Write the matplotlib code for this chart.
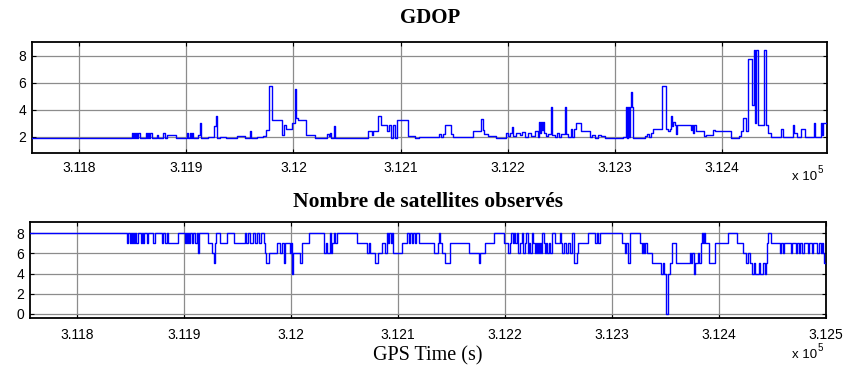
import matplotlib
matplotlib.use("Agg")
import matplotlib.pyplot as plt
from matplotlib.ticker import FuncFormatter

# GDOP : instants (s) et valeurs, en escalier
gdop_t = [311756, 311849, 311850, 311851, 311852, 311853, 311854, 311855, 311857,
          311862, 311863, 311864, 311865, 311866, 311868, 311873, 311874, 311878, 311880,
          311882, 311890, 311901, 311902, 311903, 311904, 311905, 311906, 311911, 311913,
          311914, 311920, 311926, 311928, 311929, 311931, 311937, 311947, 311955, 311959,
          311960, 311966, 311972, 311974, 311977, 311980, 311989, 311991, 311993, 311996,
          311999, 312001, 312002, 312004, 312012, 312020, 312031, 312033, 312034, 312035,
          312038, 312039, 312070, 312073, 312074, 312079, 312082, 312087, 312089, 312091,
          312093, 312095, 312097, 312107, 312113, 312117, 312136, 312138, 312140, 312141,
          312147, 312149, 312168, 312175, 312177, 312178, 312182, 312189, 312198, 312200,
          312202, 312204, 312205, 312208, 312211, 312213, 312216, 312219, 312222, 312225,
          312228, 312229, 312230, 312231, 312232, 312233, 312234, 312236, 312238, 312240,
          312241, 312244, 312246, 312248, 312250, 312253, 312254, 312256, 312259, 312260,
          312262, 312264, 312268, 312277, 312279, 312281, 312284, 312287, 312291, 312308,
          312310, 312311, 312312, 312313, 312314, 312315, 312316, 312317, 312328, 312330,
          312332, 312334, 312336, 312340, 312344, 312348, 312350, 312351, 312352, 312353,
          312354, 312356, 312357, 312358, 312371, 312372, 312373, 312374, 312376, 312383,
          312385, 312387, 312392, 312393, 312408, 312416, 312418, 312420, 312422, 312424,
          312428, 312430, 312431, 312432, 312434, 312439, 312441, 312443, 312446, 312455,
          312457, 312466, 312467, 312470, 312474, 312477, 312486, 312487, 312492, 312493,
          312494, 312498]
gdop_v = [1.93, 2.3, 1.93, 2.3, 1.93, 2.3, 1.93, 2.3, 1.93,
          2.3, 1.93, 2.3, 1.93, 2.3, 1.93, 2.15, 1.93, 2.3, 1.93,
          2.1, 1.93, 2.3, 1.93, 2.3, 1.93, 2.3, 1.93, 2.1, 3.0,
          1.93, 1.97, 2.8, 3.5, 1.93, 1.97, 1.93, 2.05, 1.93, 2.4,
          1.93, 1.97, 2.05, 2.5, 5.75, 3.25, 2.1, 2.9, 2.6, 2.55,
          3.0, 5.5, 3.4, 3.25, 2.1, 1.93, 2.2, 2.05, 2.25, 1.93,
          2.8, 1.93, 2.4, 2.1, 2.45, 3.5, 2.9, 2.4, 2.85, 1.9,
          2.85, 1.9, 3.25, 2.05, 1.93, 1.97, 2.2, 1.97, 2.2, 2.9,
          2.2, 1.97, 2.4, 3.3, 2.5, 2.2, 2.05, 1.93, 2.3, 2.05,
          2.3, 2.7, 2.05, 2.3, 2.1, 2.35, 1.97, 2.3, 2.05, 2.4,
          1.97, 3.1, 2.3, 3.1, 2.5, 3.1, 2.3, 2.05, 2.2, 4.2,
          2.1, 1.97, 2.3, 1.97, 2.2, 4.2, 2.2, 1.97, 2.6, 1.97,
          2.6, 3.0, 2.4, 1.97, 2.1, 1.93, 2.1, 2.05, 1.9, 1.97,
          4.2, 1.9, 4.2, 1.97, 4.2, 5.3, 4.2, 1.9, 2.05, 2.2,
          1.97, 2.3, 2.55, 2.6, 5.75, 2.6, 2.4, 2.6, 3.5, 2.8,
          3.1, 2.85, 2.2, 2.85, 2.5, 2.85, 2.3, 2.85, 2.4, 2.05,
          2.15, 2.1, 2.5, 2.4, 1.9, 2.05, 2.4, 3.4, 2.4, 7.75,
          4.35, 8.4, 3.0, 8.4, 2.9, 8.4, 2.9, 2.3, 1.97, 2.55,
          1.97, 2.9, 2.3, 1.97, 2.6, 1.97, 3.0, 1.97, 3.0, 2.1,
          3.0, 3.0]

# nombre de satellites observes
sat_t = [311756, 311847, 311848, 311849, 311850, 311851, 311852, 311853, 311854, 311855,
         311857, 311860, 311861, 311862, 311863, 311865, 311866, 311871, 311873, 311879,
         311880, 311882, 311884, 311885, 311894, 311901, 311902, 311903, 311904, 311905,
         311906, 311907, 311908, 311910, 311912, 311913, 311914, 311922, 311926, 311928,
         311929, 311930, 311934, 311940, 311947, 311957, 311958, 311960, 311962, 311964,
         311966, 311968, 311970, 311972, 311975, 311976, 311977, 311979, 311987, 311990,
         311992, 311993, 311994, 311999, 312000, 312001, 312002, 312008, 312010, 312017,
         312031, 312033, 312034, 312036, 312037, 312038, 312040, 312041, 312043, 312062,
         312071, 312073, 312074, 312078, 312081, 312085, 312088, 312090, 312091, 312092,
         312093, 312094, 312095, 312104, 312108, 312110, 312111, 312113, 312114, 312116,
         312117, 312120, 312134, 312137, 312138, 312139, 312141, 312144, 312149, 312166,
         312176, 312177, 312181, 312190, 312199, 312203, 312205, 312206, 312207, 312208,
         312209, 312211, 312212, 312214, 312216, 312217, 312219, 312220, 312221, 312222,
         312223, 312225, 312226, 312228, 312229, 312230, 312231, 312232, 312233, 312234,
         312235, 312236, 312237, 312238, 312239, 312241, 312242, 312244, 312247, 312251,
         312252, 312253, 312255, 312257, 312259, 312261, 312263, 312264, 312267, 312268,
         312278, 312284, 312286, 312287, 312289, 312309, 312312, 312313, 312315, 312317,
         312326, 312328, 312329, 312330, 312331, 312333, 312337, 312346, 312348, 312349,
         312350, 312352, 312354, 312356, 312360, 312373, 312374, 312375, 312377, 312378,
         312380, 312381, 312383, 312384, 312385, 312386, 312387, 312391, 312396, 312408,
         312417, 312422, 312425, 312427, 312429, 312431, 312433, 312434, 312437, 312438,
         312441, 312443, 312444, 312445, 312446, 312449, 312457, 312458, 312460, 312461,
         312467, 312468, 312472, 312473, 312475, 312476, 312478, 312479, 312483, 312484,
         312487, 312488, 312492, 312493, 312495, 312496, 312497, 312498, 312500]
sat_v = [8, 7, 8, 7, 8, 7, 8, 7, 8, 7,
         8, 7, 8, 7, 8, 7, 8, 7, 8, 7,
         8, 7, 8, 7, 8, 7, 8, 7, 8, 7,
         8, 7, 8, 7, 8, 6, 8, 7, 6, 5,
         7, 8, 7, 8, 7, 8, 7, 8, 7, 8,
         7, 8, 7, 8, 7, 6, 5, 6, 7, 6,
         7, 5, 7, 6, 7, 4, 6, 5, 7, 8,
         6, 7, 6, 8, 6, 7, 8, 7, 8, 7,
         6, 7, 6, 5, 6, 7, 6, 8, 7, 8,
         7, 8, 6, 7, 8, 7, 8, 7, 8, 7,
         8, 7, 6, 7, 8, 7, 6, 5, 7, 6,
         5, 6, 7, 8, 7, 6, 7, 8, 7, 8,
         7, 8, 6, 7, 8, 6, 7, 8, 6, 7,
         6, 8, 7, 6, 7, 6, 7, 6, 7, 6,
         8, 7, 6, 7, 6, 7, 6, 8, 7, 8,
         7, 6, 7, 6, 7, 6, 8, 5, 6, 7,
         8, 7, 8, 7, 8, 7, 6, 7, 5, 8,
         7, 6, 7, 6, 7, 6, 5, 4, 5, 4,
         0, 4, 5, 7, 5, 6, 5, 6, 4, 5,
         6, 5, 7, 8, 7, 8, 7, 5, 7, 8,
         7, 6, 5, 6, 5, 4, 5, 4, 5, 4,
         5, 4, 5, 7, 8, 7, 6, 7, 6, 7,
         6, 7, 6, 7, 6, 7, 6, 7, 6, 7,
         6, 7, 6, 7, 6, 7, 6, 5, 5]

xticks_top = [311800, 311900, 312000, 312100, 312200, 312300, 312400]
xticks_bot = [311800, 311900, 312000, 312100, 312200, 312300, 312400, 312500]

W, H = 853, 367
fig = plt.figure(figsize=(W / 100, H / 100), dpi=100)
fig.patch.set_facecolor("white")

sans = "Liberation Sans"
serif = "Liberation Serif"


def style_axes(ax, xmax, xticks, ylim, yticks, xpad):
    ax.set_xlim(311756, xmax)
    ax.set_ylim(*ylim)
    ax.set_xticks(xticks)
    ax.set_yticks(yticks)
    ax.xaxis.set_major_formatter(FuncFormatter(lambda v, p: f"{v / 1e5:g}"))
    ax.grid(True, color="#8c8c8c", linewidth=0.9)
    ax.set_axisbelow(True)
    ax.tick_params(direction="in", length=3, width=0.8, top=True, right=True,
                   labelsize=10, pad=4, colors="black")
    ax.tick_params(axis="x", pad=xpad)
    for lab in ax.get_xticklabels() + ax.get_yticklabels():
        lab.set_fontfamily(sans)
    for s in ax.spines.values():
        s.set_linewidth(1.3)


# haut : GDOP
ax1 = fig.add_axes([32 / W, 1 - 153 / H, (827 - 32) / W, (153 - 42) / H])
ax1.plot(gdop_t, gdop_v, drawstyle="steps-post", color="#0000ff", linewidth=1.0, zorder=3)
style_axes(ax1, 312498, xticks_top, (0.8, 9.0), [2, 4, 6, 8], 6)

# bas : satellites
ax2 = fig.add_axes([30 / W, 1 - 318 / H, (826 - 30) / W, (318 - 222) / H])
ax2.plot(sat_t, sat_v, drawstyle="steps-post", color="#0000ff", linewidth=1.0, zorder=3)
style_axes(ax2, 312500, xticks_bot, (-0.4, 9.1), [0, 2, 4, 6, 8], 7)

fig.text(430 / W, 1 - 18 / H, "GDOP", ha="center", va="center",
         fontfamily=serif, fontweight="bold", fontsize=15)
fig.text(428 / W, 1 - 202 / H, "Nombre de satellites observés", ha="center", va="center",
         fontfamily=serif, fontweight="bold", fontsize=15.5)
fig.text(428 / W, 1 - 356 / H, "GPS Time (s)", ha="center", va="center",
         fontfamily=serif, fontsize=14.5)

# facteur d'echelle facon MATLAB
for ybase in (180, 358):
    fig.text(792 / W, 1 - ybase / H, "x 10", ha="left", va="baseline",
             fontfamily=sans, fontsize=9.5)
    fig.text(818 / W, 1 - (ybase - 7) / H, "5", ha="left", va="baseline",
             fontfamily=sans, fontsize=7)

fig.savefig("out.png", dpi=100)
